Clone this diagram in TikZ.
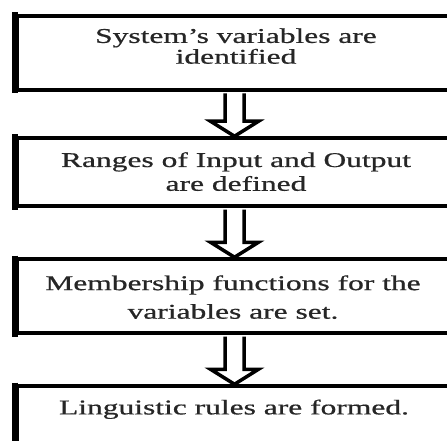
\documentclass[tikz,border=0pt]{standalone}
\usepackage{graphicx}
\usepackage{fontspec}
\setmainfont[FakeBold=0.6]{Liberation Serif}
\usetikzlibrary{calc,positioning}
\newcommand{\widetext}[1]{\scalebox{1.5}[1]{\begin{tabular}{@{}c@{}}#1\end{tabular}}}

\begin{document}
\begin{tikzpicture}[
            x=1pt, y=-1pt,
            stepbox/.style={draw=black, line width=3.5pt, minimum width=435pt, inner sep=0pt},
            side rule/.style={draw=black, line width=6pt},
            steptext/.style={font=\fontsize{21}{20}\selectfont, text=black!85, inner sep=0pt},
            fat arrow/.style={draw=black, line width=3.5pt, fill=white, line join=miter},
        ]
        \useasboundingbox (0,0) rectangle (447,441);
        \clip (0,0) rectangle (447,441);
        % boxes
        \node[stepbox, minimum height=74pt] (ident) at (234.5,53) {};
        \node[stepbox, minimum height=68pt] (range) at (234.5,172) {};
        \node[stepbox, minimum height=74pt] (member) at (234.5,296) {};
        \node[stepbox, minimum height=84pt] (rules) at (234.5,428) {};
        \foreach \b in {ident,range,member,rules}
            \draw[side rule] ([yshift=1.75pt]\b.north west) -- ([yshift=-1.75pt]\b.south west);
        % texts
        \node[steptext] (identtxt) at (236,49) {\widetext{System’s variables are\\identified}};
        \node[steptext] (rangetxt) at (236,174.5) {\widetext{Ranges of Input and Output\\[3pt]are defined}};
        \node[steptext] (membertxt) at (233,300) {\widetext{Membership functions for the\\[8pt]variables are set.}};
        \node[steptext] (rulestxt) at (234,410) {\widetext{Linguistic rules are formed.}};
        % hollow arrows
        \foreach \a/\b in {ident/range,range/member,member/rules}
            \draw[fat arrow] ($(\a.south)+(-9.5,1.75)$) -- ($(\b.north)+(-9.5,-15)$)
                -- ($(\b.north)+(-24,-15)$) -- (\b.north) -- ($(\b.north)+(24,-15)$)
                -- ($(\b.north)+(9.5,-15)$) -- ($(\a.south)+(9.5,1.75)$);
        \end{tikzpicture}
\end{document}
